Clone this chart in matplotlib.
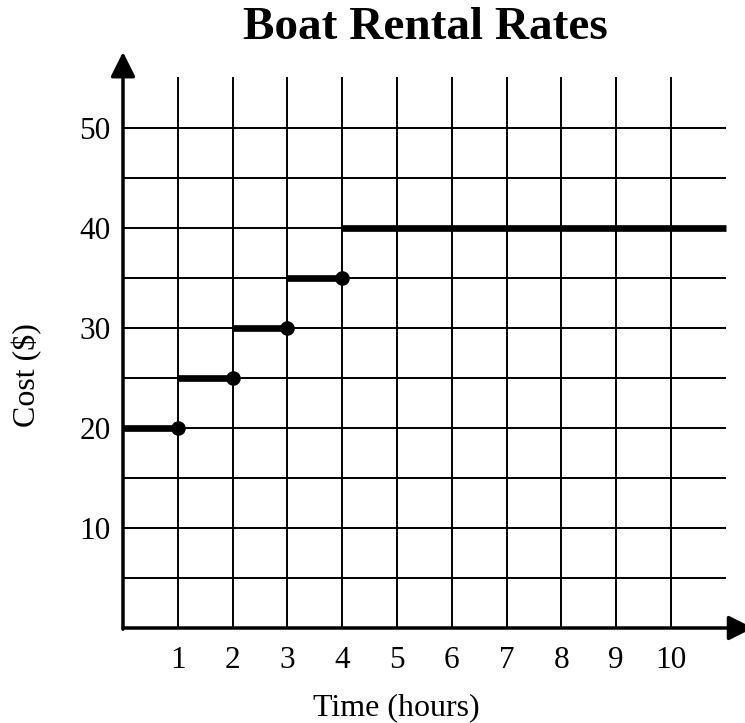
import matplotlib
matplotlib.use('Agg')
import matplotlib.pyplot as plt

plt.rcParams['font.family'] = ['Liberation Serif', 'DejaVu Serif']

# step function data
start_hours = [0, 1, 2, 3, 4]
end_hours = [1, 2, 3, 4, 11]
costs = [20, 25, 30, 35, 40]
dot_hours = [1, 2, 3, 4]
dot_costs = [20, 25, 30, 35]

x_ticks = [1, 2, 3, 4, 5, 6, 7, 8, 9, 10]
y_ticks = [10, 20, 30, 40, 50]
v_grid = [1, 2, 3, 4, 5, 6, 7, 8, 9, 10]
h_grid = [5, 10, 15, 20, 25, 30, 35, 40, 45, 50]

W, H = 745, 723
fig = plt.figure(figsize=(W / 100, H / 100), dpi=100)
x0, y0 = 123, 628
ux, uy = 54.8, 10.0
xmax, ymax = 11.4, 58
ax = fig.add_axes([x0 / W, (H - y0) / H, xmax * ux / W, ymax * uy / H])
ax.set_xlim(0, xmax)
ax.set_ylim(0, ymax)
for s in ax.spines.values():
    s.set_visible(False)

# grid
ax.vlines(v_grid, 0, 55.1, color='black', lw=1.4, zorder=1)
ax.hlines(h_grid, 0, 11, color='black', lw=1.4, zorder=1)

# steps
ax.hlines(costs, start_hours, end_hours, color='black', lw=4.8, zorder=3)
ax.plot(dot_hours, dot_costs, 'o', color='black', ms=9.5, zorder=4)

# axes with arrows
arrow = dict(arrowstyle='-|>,head_length=1.0,head_width=0.5', color='black',
             lw=2.5, shrinkA=0, shrinkB=0, mutation_scale=15)
ax.annotate('', xy=(0, 57.6), xytext=(0, -0.12), arrowprops=arrow, annotation_clip=False)
ax.annotate('', xy=(11.5, 0), xytext=(0, 0), arrowprops=arrow, annotation_clip=False)

ax.set_xticks(x_ticks)
ax.set_xticklabels([str(v) for v in x_ticks])
ax.set_yticks(y_ticks)
ax.set_yticklabels([str(v) for v in y_ticks])
ax.tick_params(axis='both', length=0, labelsize=22.5)
ax.tick_params(axis='x', pad=13)
ax.tick_params(axis='y', pad=9)

fig.text(425 / W, 1 - 39 / H, 'Boat Rental Rates', ha='center', va='baseline',
         fontsize=34, fontweight='bold')
fig.text(396.5 / W, 1 - 715 / H, 'Time (hours)', ha='center', va='baseline', fontsize=23)
fig.text(27 / W, 1 - 375 / H, 'Cost ($)', ha='center', va='center', rotation=90, fontsize=23)

fig.savefig('out.png', dpi=100)
